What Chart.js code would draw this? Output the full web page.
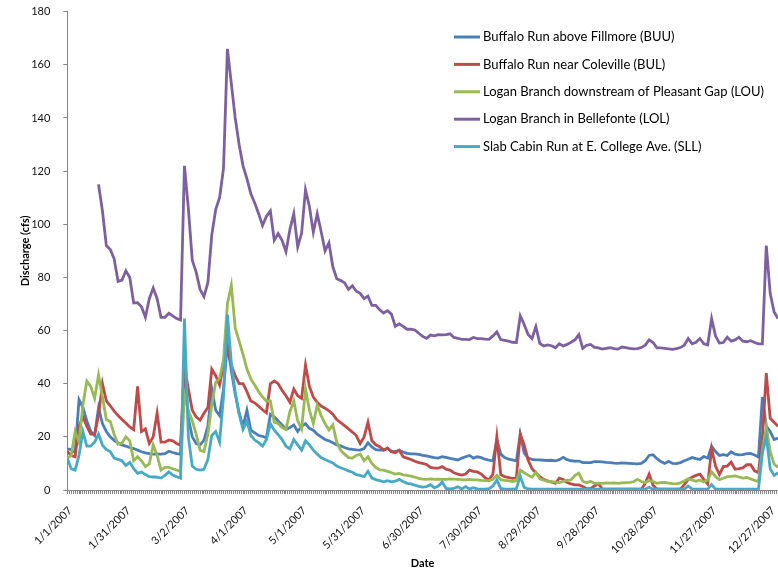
<!DOCTYPE html>
<html>
<head>
<meta charset="utf-8">
<title>Discharge 2007</title>
<script src="https://cdn.jsdelivr.net/npm/chart.js@4.4.1/dist/chart.umd.min.js"></script>
<style>
  html, body { margin: 0; padding: 0; background: #ffffff; overflow: hidden; }
  canvas { display: block; }
</style>
</head>
<body>
<canvas id="chart" width="778" height="571" style="width:778px;height:571px"></canvas>
<script>
// Stream discharge (cfs) through 2007, one reading every second day.
// Day 0 is 1/1/2007.
const dayStep = 2;
const days = Array.from({ length: 183 }, (_, i) => i * dayStep);

// Date axis labels, one every 30 days
const tickDays = [0, 30, 60, 90, 120, 150, 180, 210, 240, 270, 300, 330, 360];
const tickLabels = ['1/1/2007', '1/31/2007', '3/2/2007', '4/1/2007', '5/1/2007', '5/31/2007',
  '6/30/2007', '7/30/2007', '8/29/2007', '9/28/2007', '10/28/2007', '11/27/2007', '12/27/2007'];

const seriesNames = [
  'Buffalo Run above Fillmore (BUU)',
  'Buffalo Run near Coleville (BUL)',
  'Logan Branch downstream of Pleasant Gap (LOU)',
  'Logan Branch in Bellefonte (LOL)',
  'Slab Cabin Run at E. College Ave. (SLL)'
];

const buu = [
  15.5, 15.2, 14, 34, 31, 26, 22, 20.5, 31, 25,
  22, 20, 18.7, 17.7, 17, 16.5, 16, 15.6, 15, 14.4,
  14, 13.7, 13.5, 13.5, 13.5, 13.7, 14.6, 14.1, 13.7, 13.5,
  46, 27, 20, 17.5, 17, 18.8, 24, 38, 30, 28,
  38, 55, 45, 36, 29, 24, 30, 22.5, 21.5, 20.5,
  20.2, 19.6, 28.5, 27.5, 26, 24.5, 22.8, 23.5, 24.5, 22,
  24, 25, 23.2, 22.5, 21, 20, 19, 18.5, 17.8, 17,
  16.6, 16, 15.5, 15.3, 15.1, 15, 15.6, 17.8, 16.2, 15.2,
  15, 15, 15.6, 14.6, 14.5, 15, 14.3, 13.8, 13.6, 13.6,
  13.4, 13, 12.8, 12.5, 12.2, 12, 12.5, 12.3, 11.9, 11.6,
  11.3, 12, 12.5, 13, 12, 12.5, 12.2, 11.6, 11.2, 11,
  19, 13.5, 12.2, 11.6, 11.3, 10.9, 21, 14, 12, 11.5,
  11.3, 11.3, 11.2, 11.1, 11.2, 11, 11.4, 12.3, 11.4, 11,
  10.9, 10.9, 10.3, 10.3, 10.3, 10.7, 10.7, 10.6, 10.4, 10.3,
  10.1, 10, 10.2, 10.1, 10, 9.9, 9.8, 10, 11, 13,
  13.3, 11.8, 10.7, 10, 10.8, 10, 9.9, 10.3, 11, 11.6,
  12.2, 11.8, 11.5, 12.6, 12, 16.5, 14.5, 13, 13.3, 13,
  14.4, 13.5, 13.2, 13.3, 13.7, 13.8, 13.2, 12.4, 35, 24,
  22, 19, 19.5
];

const bul = [
  14.5, 13, 12.5, 24, 27.5, 24, 21, 21, 28, 40,
  33.5, 31.7, 29.7, 28, 26.5, 25.2, 23.7, 22.7, 39, 22,
  23, 17.5, 20, 29, 18, 18, 18.8, 18.5, 17.5, 16.9,
  47, 38, 30, 27.5, 26.3, 28.9, 31, 45.5, 43, 39.5,
  47, 53, 47, 43, 40, 40, 37, 33.5, 32.8, 31.5,
  30.2, 29, 40, 41, 40, 37.5, 35.5, 33, 38, 35.5,
  34.5, 47, 39, 35, 33, 31.6, 30.8, 29.8, 28.5, 26.5,
  25.4, 24.2, 23, 21.8, 20.5, 17.5, 20, 25.5, 18.5, 17,
  16.3, 15, 15.8, 14.4, 14, 15, 12.5, 12, 11.5, 10.8,
  10.3, 10, 9.6, 8.5, 8.2, 8.2, 8.8, 7.8, 7.5, 6.5,
  6, 5.6, 6, 7.5, 7, 6.8, 6, 4.6, 3.8, 6,
  20, 5.8, 5, 4.7, 4.4, 4.6, 21, 17, 11.3, 8,
  6.5, 5, 4, 3.4, 3, 2.5, 4.5, 4, 2.8, 2.3,
  1.9, 1.9, 1.3, 0.6, 0.5, 1.5, 2.5, 0.4, 0.3, 0.3,
  0.3, 0.3, 0.3, 0.3, 0.3, 0.3, 0.3, 0.3, 2.5, 6,
  1.8, 0.4, 0.3, 0.3, 0.3, 0.3, 0.3, 0.3, 2, 4,
  4.8, 5.5, 6, 4, 2.2, 15.5, 9, 5.8, 8.8, 9,
  10.5, 7.8, 8, 8.3, 9.5, 9.5, 7.2, 6.5, 20, 44,
  27, 25.5, 24
];

const lou = [
  12, 13, 22, 18, 32, 41, 39, 34.5, 43.3, 35,
  26.5, 25.8, 21, 17.2, 17.7, 20, 18.5, 11, 12.5, 11,
  8.8, 9.8, 17, 13, 7.5, 8.5, 8.5, 8, 7.5, 6.9,
  36, 30, 26, 21, 15, 14.5, 21, 32, 40.5, 42,
  49, 70, 77, 61, 56, 51, 45.5, 41.8, 39.5, 37,
  35, 33.5, 33.5, 25.5, 25, 23.5, 22.8, 29.5, 33.5, 26,
  23, 38, 30, 25, 32, 28, 25, 22.6, 24.5, 18,
  15, 13.5, 12.2, 12, 13, 13.5, 11, 12.5, 10, 8.5,
  7.6, 7.5, 7, 6.5, 6, 6.2, 5.7, 5.5, 5.2, 4.8,
  4.4, 4.1, 4, 4.2, 4, 4.1, 4, 4, 4.2, 4.1,
  4, 3.9, 3.8, 4, 3.8, 3.8, 3.6, 3.5, 3.5, 4,
  5.5, 3.9, 3.6, 3.4, 3.2, 3.5, 7.5, 6.5, 5.6, 4.8,
  6.6, 4.2, 3.7, 3.2, 3.1, 3, 2.8, 3.2, 3.7, 3.8,
  5.5, 6.3, 3.3, 2.7, 3.3, 2.5, 2.5, 2.5, 2.7, 2.6,
  2.7, 2.5, 2.7, 2.8, 2.9, 3.1, 4, 3.2, 2.8, 3.6,
  3.2, 2.5, 2.8, 2.9, 2.6, 2.4, 2.3, 2.7, 3.4, 4.2,
  3.8, 3.3, 3.8, 3, 3.8, 6.8, 5, 3.9, 4.4, 5,
  5.1, 5.3, 4.9, 4.5, 4.7, 4.2, 3.6, 3.2, 15, 23.8,
  14.5, 9.8, 8.5
];

const lol = [
  null, null, null, null, null, null, null, null, 115, 105,
  92, 90.5, 87, 78.5, 79, 82.5, 80, 70.4, 70.5, 69,
  65, 72, 76, 72, 65, 65, 66.5, 65.5, 64.5, 64,
  122, 106, 86.5, 82, 75.5, 72.8, 78, 96, 105.5, 110,
  121, 166, 153, 140, 130, 122, 117.2, 111.5, 108, 104,
  99.5, 103, 105, 94, 96.5, 94, 89.7, 98, 104, 91.5,
  96.6, 113, 106.7, 97, 104, 97.3, 90, 93, 84, 79.5,
  78.8, 78, 75.5, 76.8, 74.8, 74, 72, 73, 69.5, 69.5,
  67.8, 66.6, 67.5, 66.2, 61.6, 62.5, 61.6, 60.5, 60.5, 60.2,
  59, 57.8, 57.1, 58.3, 58, 58.5, 58.4, 58.5, 58.8, 57.4,
  57.1, 56.7, 56.7, 56.6, 57.4, 57, 57, 56.8, 56.7, 58,
  59.5, 56.6, 56.3, 56, 55.6, 55.5, 65.5, 62.3, 58.5, 57,
  61.5, 55.2, 54.2, 54.6, 54.3, 53.5, 55, 54.2, 54.8, 55.6,
  56.5, 58.5, 53.3, 54.5, 54.8, 53.7, 53.5, 53, 53.3, 53.6,
  53.2, 53, 53.8, 53.6, 53.3, 53.1, 53.2, 53.6, 54.5, 56.5,
  55.5, 53.5, 53.5, 53.3, 53.1, 52.9, 53.2, 53.6, 54.5, 57,
  55, 55.6, 57, 55, 54.6, 64.5, 58, 55.3, 55.5, 57.5,
  56, 56.5, 57.5, 56, 55.8, 56.2, 55.5, 55, 55, 92,
  74, 67, 64.5
];

const sll = [
  12, 8, 7.5, 13, 22, 16.5, 16.5, 18, 21, 16.9,
  15.2, 14.5, 12, 11.5, 11, 9.2, 10.4, 8, 6.3, 6.8,
  5.8, 5, 4.9, 4.8, 4.5, 5.5, 6.8, 5.6, 5, 4.4,
  64.5, 20, 9, 7.8, 7.5, 7.8, 11.5, 20.5, 22, 18,
  35, 66, 48, 37, 28.5, 22.8, 26, 20.5, 18.8, 17.8,
  16.5, 19, 25, 22.5, 20.8, 19, 16.5, 15.5, 19, 17,
  15, 18.5, 17, 15, 13.5, 12.2, 11.5, 10.8, 10.2, 9,
  8.4, 7.8, 7.2, 6.7, 5.8, 5.5, 5, 7, 4.5, 3.9,
  3.5, 3.1, 3.5, 3.1, 3.3, 4, 3.2, 2.5, 2.3, 1.8,
  1.4, 1.1, 1.3, 2, 0.8, 1.5, 3, 0.6, 0.4, 0.6,
  1.2, 0.4, 1.3, 0.4, 0.9, 0.4, 0.3, 0.3, 0.5, 1.5,
  3.8, 0.6, 0.3, 0.3, 0.3, 0.5, 5.2, 1, 0.4, 0.3,
  0.3, 0.3, 0.3, 0.3, 0.3, 0.3, 0.3, 0.3, 0.3, 0.3,
  0.3, 0.3, 0.3, 0.3, 0.3, 0.3, 0.3, 0.3, 0.3, 0.3,
  0.3, 0.3, 0.3, 0.3, 0.3, 0.3, 0.3, 0.3, 0.3, 1,
  0.3, 0.3, 0.3, 0.3, 0.3, 0.3, 0.3, 0.3, 0.3, 1.5,
  0.3, 0.3, 0.3, 0.3, 0.3, 2, 0.3, 0.3, 0.3, 0.3,
  0.3, 0.3, 0.3, 0.3, 0.3, 0.3, 0.3, 0.3, 14, 20,
  8, 5.5, 6.5
];

const seriesValues = [buu, bul, lou, lol, sll];
const seriesColors = ['#4a7ebb', '#be4b48', '#98b954', '#7d60a0', '#46aac5'];

const datasets = seriesValues.map((vals, k) => ({
  label: seriesNames[k],
  data: days.map((d, i) => ({ x: d, y: vals[i] })),
  borderColor: seriesColors[k],
  backgroundColor: seriesColors[k],
  borderWidth: 2.8,
  pointRadius: 0,
  pointHoverRadius: 0,
  tension: 0,
  spanGaps: false,
  fill: false,
  order: seriesValues.length - k   // later series painted over earlier ones
}));

// Legend stacked in the upper right of the plot
const sideLegend = {
  id: 'sideLegend',
  afterDraw(chart) {
    const ctx = chart.ctx;
    ctx.save();
    ctx.font = '13px Lato';
    ctx.textBaseline = 'middle';
    ctx.textAlign = 'left';
    chart.data.datasets.forEach((ds, row) => {
      const y = 37 + row * 27.4;
      ctx.strokeStyle = ds.borderColor;
      ctx.lineWidth = 3;
      ctx.beginPath();
      ctx.moveTo(454, y);
      ctx.lineTo(480, y);
      ctx.stroke();
      ctx.fillStyle = '#000000';
      ctx.fillText(ds.label, 483, y);
    });
    ctx.restore();
  }
};

const axisGrey = '#868686';

new Chart(document.getElementById('chart'), {
  type: 'line',
  data: { datasets },
  plugins: [sideLegend],
  options: {
    responsive: false,
    devicePixelRatio: 1,
    animation: false,
    events: [],
    layout: { padding: { top: 11.7, right: 0, bottom: 0, left: 0 } },
    plugins: {
      legend: { display: false },
      tooltip: { enabled: false }
    },
    scales: {
      x: {
        type: 'linear',
        min: 0,
        max: 364,
        afterBuildTicks(scale) {
          const t = [];
          for (let d = 0; d <= 364; d++) t.push({ value: d });
          scale.ticks = t;
        },
        afterFit(scale) {
          scale.height = 81;
          scale.paddingLeft = 0;
          scale.paddingRight = 0;
        },
        ticks: {
          autoSkip: false,
          minRotation: 45,
          maxRotation: 45,
          padding: 10,
          labelOffset: 3,
          color: '#111111',
          font: { family: 'Lato', size: 11 },
          callback(value) {
            const k = tickDays.indexOf(value);
            return k >= 0 ? tickLabels[k] : '';
          }
        },
        grid: {
          display: true,
          drawOnChartArea: false,
          drawTicks: true,
          tickLength: 4,
          color: axisGrey,
          lineWidth: 1
        },
        border: { display: true, color: axisGrey, width: 1 },
        title: {
          display: true,
          text: 'Date',
          color: '#000000',
          font: { family: 'Lato', size: 11, weight: 'bold' },
          padding: { top: 0, bottom: 0.5 }
        }
      },
      y: {
        min: 0,
        max: 180,
        afterFit(scale) {
          scale.width = 67.3;
          scale.paddingTop = 0;
          scale.paddingBottom = 0;
        },
        ticks: {
          stepSize: 20,
          padding: 13,
          color: '#111111',
          font: { family: 'Lato', size: 11 }
        },
        grid: {
          display: true,
          drawOnChartArea: false,
          drawTicks: true,
          tickLength: 4,
          color: axisGrey,
          lineWidth: 1
        },
        border: { display: true, color: axisGrey, width: 1 },
        title: {
          display: true,
          text: 'Discharge (cfs)',
          color: '#000000',
          font: { family: 'Lato', size: 11, weight: 'bold' },
          padding: { top: 18.4, bottom: 0 }
        }
      }
    }
  }
});
</script>
</body>
</html>
